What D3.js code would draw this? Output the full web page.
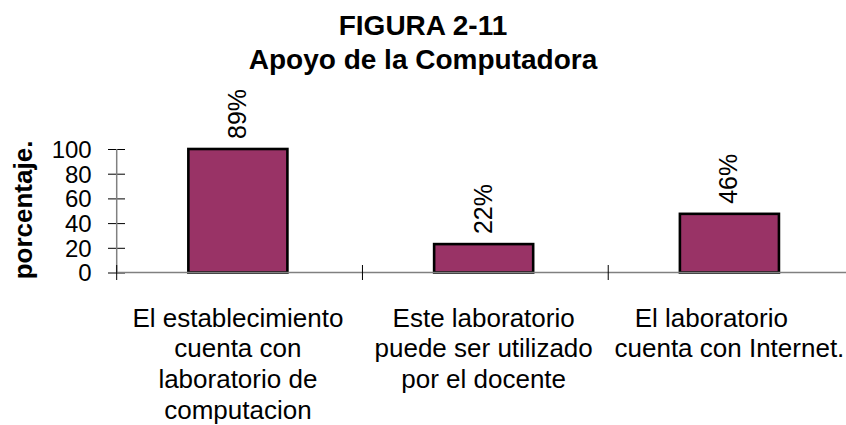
<!DOCTYPE html>
<html>
<head>
<meta charset="utf-8">
<script src="https://cdn.jsdelivr.net/npm/d3@7"></script>
<style>
  html, body { margin: 0; padding: 0; background: #fff; }
  svg { display: block; font-family: "Liberation Sans", Arial, sans-serif; }
</style>
</head>
<body>
<svg id="chart" width="846" height="425"></svg>
<script>
// ---- data ----
const titleLines = ["FIGURA 2-11", "Apoyo de la Computadora"];
const yAxisLabel = "porcentaje.";
const categories = [
  ["El establecimiento", "cuenta con", "laboratorio de", "computacion"],
  ["Este laboratorio", "puede ser utilizado", "por el docente"],
  ["El laboratorio\u00a0\u00a0\u00a0\u00a0\u00a0", "cuenta con Internet."]
];
const values = [100, 23, 47.5];
const valueLabels = ["89%", "22%", "46%"];
const yTicks = [0, 20, 40, 60, 80, 100];

// ---- layout ----
const svg = d3.select("#chart");
const x0 = 116.7, yZero = 272.5, yTop = 149;
const x = d3.scaleBand().domain(d3.range(categories.length)).range([x0, 854]).padding(0);
const y = d3.scaleLinear().domain([0, 100]).range([yZero, yTop]);
const barW = x.bandwidth() * 0.403;
const cx = i => x(i) + x.bandwidth() / 2 - 1.7;

// title
svg.append("g").selectAll("text").data(titleLines).join("text")
  .attr("x", 423).attr("y", (d, i) => 35 + i * 34.3)
  .attr("text-anchor", "middle").attr("font-size", 28).attr("font-weight", "bold")
  .attr("fill", "#000").text(d => d);

// y axis label
svg.append("text")
  .attr("transform", "translate(32,210) rotate(-90)")
  .attr("text-anchor", "middle").attr("font-size", 26).attr("font-weight", "bold")
  .text(yAxisLabel);

// bars
svg.append("g").selectAll("rect").data(values).join("rect")
  .attr("x", (d, i) => cx(i) - barW / 2)
  .attr("y", d => y(d))
  .attr("width", barW)
  .attr("height", d => yZero - y(d))
  .attr("fill", "#993366")
  .attr("stroke", "#000").attr("stroke-width", 2.6);

// y axis
const yAxis = svg.append("g").attr("transform", `translate(${x0},0)`)
  .call(d3.axisLeft(y).tickValues(yTicks).tickSize(0).tickPadding(0));
yAxis.select(".domain").remove();
yAxis.selectAll(".tick line").attr("x1", -8.7).attr("x2", 8.3).attr("stroke", "#000").attr("stroke-width", 1);
yAxis.selectAll(".tick text")
  .attr("x", 91.7 - x0).attr("dy", "0.35em")
  .attr("font-size", 24).attr("font-family", "Liberation Sans, Arial, sans-serif").attr("fill", "#000");
svg.append("line").attr("x1", x0).attr("x2", x0).attr("y1", yTop).attr("y2", yZero)
  .attr("stroke", "#808080").attr("stroke-width", 1.5);

// x axis
svg.append("line").attr("x1", x0).attr("x2", 846).attr("y1", yZero).attr("y2", yZero)
  .attr("stroke", "#808080").attr("stroke-width", 1.5);
const bounds = categories.map((c, i) => x(i)).concat([x.range()[1]]);
svg.append("g").selectAll("line").data(bounds).join("line")
  .attr("x1", d => d).attr("x2", d => d)
  .attr("y1", yZero - 7.5).attr("y2", yZero + 7.5)
  .attr("stroke", "#000").attr("stroke-width", 1);

// category labels
const catG = svg.append("g").selectAll("text").data(categories).join("text")
  .attr("text-anchor", "middle").attr("font-size", 26).attr("fill", "#000");
catG.selectAll("tspan").data((d, i) => d.map(t => ({ t, i }))).join("tspan")
  .attr("x", d => cx(d.i)).attr("y", (d, j) => 326.5 + j * 30.8)
  .text(d => d.t);

// value labels
svg.append("g").selectAll("text").data(values).join("text")
  .attr("transform", (d, i) => `translate(${cx(i) + 8},${y(d) - 10}) rotate(-90)`)
  .attr("text-anchor", "start").attr("font-size", 25).attr("fill", "#000")
  .text((d, i) => valueLabels[i]);
</script>
</body>
</html>
